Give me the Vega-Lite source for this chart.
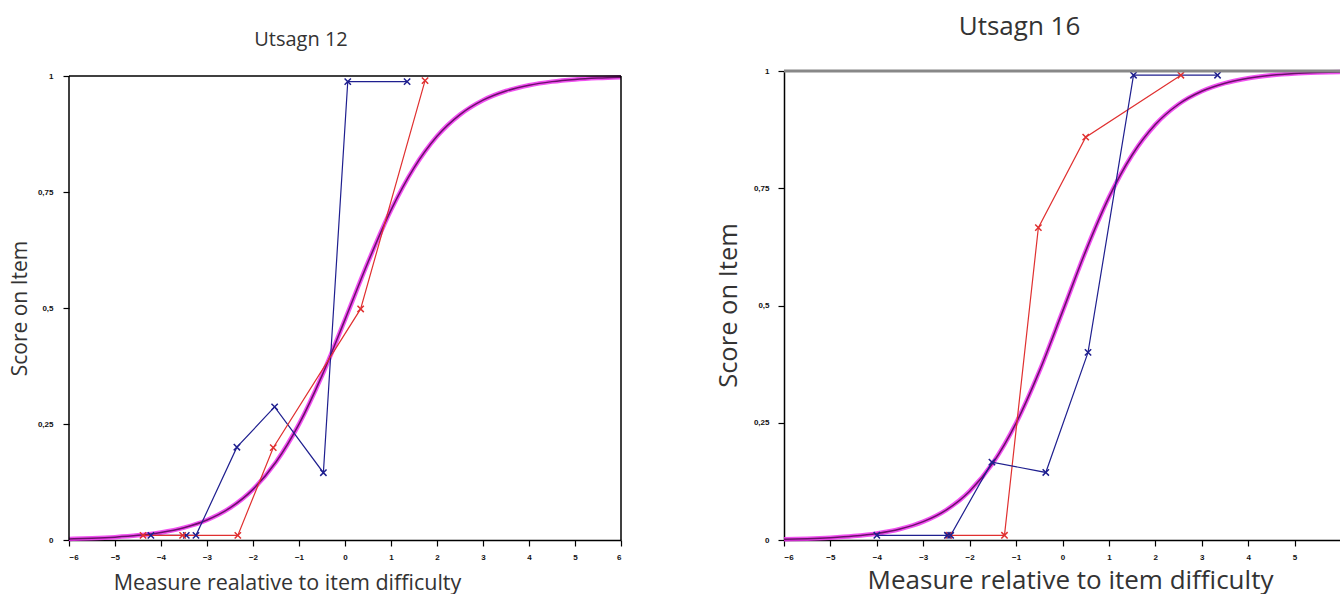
{
  "$schema": "https://vega.github.io/schema/vega-lite/v6.json",
  "padding": {"left": 9, "top": 13, "right": 0, "bottom": 0},
  "bounds": "flush",
  "spacing": 163,
  "config": {
    "view": {"stroke": null},
    "axis": {"labelFont": "Liberation Sans", "labelFontSize": 8, "labelFontWeight": "bold", "labelColor": "#111", "domain": true, "domainColor": "#000", "domainWidth": 1.5, "tickColor": "#000", "tickWidth": 1.2, "grid": false, "titleFont": "Open Sans", "titleFontWeight": "normal", "titleColor": "#333", "tickSize": 6}
  },
  "datasets": {
    "obs12": [
      {"series": "blue", "x": -4.22, "y": 0.01},
      {"series": "blue", "x": -3.45, "y": 0.01},
      {"series": "blue", "x": -3.24, "y": 0.01},
      {"series": "blue", "x": -2.35, "y": 0.2},
      {"series": "blue", "x": -1.53, "y": 0.287},
      {"series": "blue", "x": -0.47, "y": 0.145},
      {"series": "blue", "x": 0.06, "y": 0.988},
      {"series": "blue", "x": 1.35, "y": 0.988},
      {"series": "red", "x": -4.39, "y": 0.01},
      {"series": "red", "x": -3.53, "y": 0.01},
      {"series": "red", "x": -2.33, "y": 0.01},
      {"series": "red", "x": -1.56, "y": 0.199},
      {"series": "red", "x": 0.34, "y": 0.498},
      {"series": "red", "x": 1.74, "y": 0.99}
    ],
    "obs16": [
      {"series": "red", "x": -2.45, "y": 0.01},
      {"series": "red", "x": -1.25, "y": 0.01},
      {"series": "red", "x": -0.52, "y": 0.666},
      {"series": "red", "x": 0.5, "y": 0.859},
      {"series": "red", "x": 2.55, "y": 0.991},
      {"series": "blue", "x": -4.0, "y": 0.01},
      {"series": "blue", "x": -2.48, "y": 0.01},
      {"series": "blue", "x": -2.41, "y": 0.01},
      {"series": "blue", "x": -1.52, "y": 0.166},
      {"series": "blue", "x": -0.36, "y": 0.144},
      {"series": "blue", "x": 0.55, "y": 0.4},
      {"series": "blue", "x": 1.53, "y": 0.991},
      {"series": "blue", "x": 3.34, "y": 0.991}
    ],
    "curve12": [
      {"x": -6, "y": 0.0022}, {"x": -5.5, "y": 0.0037}, {"x": -5, "y": 0.0061}, {"x": -4.5, "y": 0.0100},
      {"x": -4, "y": 0.0163}, {"x": -3.5, "y": 0.0266}, {"x": -3, "y": 0.0431}, {"x": -2.5, "y": 0.0691},
      {"x": -2, "y": 0.1091}, {"x": -1.5, "y": 0.168}, {"x": -1, "y": 0.2497}, {"x": -0.5, "y": 0.3543},
      {"x": 0, "y": 0.475}, {"x": 0.5, "y": 0.5987}, {"x": 1, "y": 0.711}, {"x": 1.5, "y": 0.802},
      {"x": 2, "y": 0.870}, {"x": 2.5, "y": 0.9168}, {"x": 3, "y": 0.9479}, {"x": 3.5, "y": 0.9677},
      {"x": 4, "y": 0.9802}, {"x": 4.5, "y": 0.9879}, {"x": 5, "y": 0.9926}, {"x": 5.5, "y": 0.9955}, {"x": 6, "y": 0.9973}
    ],
    "curve16": [
      {"x": -6, "y": 0.0017}, {"x": -5.5, "y": 0.0029}, {"x": -5, "y": 0.0050}, {"x": -4.5, "y": 0.0084},
      {"x": -4, "y": 0.0140}, {"x": -3.5, "y": 0.0235}, {"x": -3, "y": 0.0391}, {"x": -2.5, "y": 0.0643},
      {"x": -2, "y": 0.1041}, {"x": -1.5, "y": 0.1642}, {"x": -1, "y": 0.2493}, {"x": -0.5, "y": 0.3595},
      {"x": 0, "y": 0.4869}, {"x": 0.5, "y": 0.6160}, {"x": 1, "y": 0.7306}, {"x": 1.5, "y": 0.8209},
      {"x": 2, "y": 0.8857}, {"x": 2.5, "y": 0.9291}, {"x": 3, "y": 0.9568}, {"x": 3.5, "y": 0.9740},
      {"x": 4, "y": 0.9844}, {"x": 4.5, "y": 0.9907}, {"x": 5, "y": 0.9945}, {"x": 5.5, "y": 0.9967}, {"x": 6, "y": 0.9981}
    ],
    "one": [{"k": 1}]
  },
  "hconcat": [
    {
      "width": 552,
      "height": 469,
      "title": {"text": "Utsagn 12", "font": "Open Sans", "fontSize": 20, "fontWeight": "normal", "color": "#333", "frame": "group", "baseline": "alphabetic", "offset": 2, "dx": -44, "anchor": "middle"},
      "layer": [
        {
          "data": {"name": "curve12"},
          "mark": {"type": "line", "color": "#ee33ee", "strokeWidth": 4.5, "interpolate": "monotone", "opacity": 0.85},
          "encoding": {
            "x": {"field": "x", "type": "quantitative", "scale": {"domain": [-6, 6], "nice": false, "zero": false},
                  "axis": {"values": [-6,-5,-4,-3,-2,-1,0,1,2,3,4,5,6], "format": "d", "labelPadding": 7, "title": "Measure realative to item difficulty", "titleFontSize": 21.5, "titleX": 218, "titleY": 49, "titleBaseline": "alphabetic", "titleAlign": "center"}},
            "y": {"field": "y", "type": "quantitative", "scale": {"domain": [0, 1.0108], "nice": false},
                  "axis": {"values": [0, 0.25, 0.5, 0.75, 1], "domain": false, "labelExpr": "replace(toString(datum.value), '.', ',')", "labelPadding": 10, "title": "Score on Item", "titleFontSize": 21, "titleX": -49, "titleY": 237, "titleAngle": -90, "titleBaseline": "middle", "titleAlign": "center"}}
          }
        },
        {
          "data": {"name": "curve12"},
          "mark": {"type": "line", "color": "#6a106a", "strokeWidth": 1.5, "interpolate": "monotone"},
          "encoding": {"x": {"field": "x", "type": "quantitative"}, "y": {"field": "y", "type": "quantitative"}}
        },
        {
          "data": {"name": "obs12"},
          "mark": {"type": "line", "strokeWidth": 1.2},
          "encoding": {
            "x": {"field": "x", "type": "quantitative"}, "y": {"field": "y", "type": "quantitative"},
            "color": {"field": "series", "type": "nominal", "scale": {"domain": ["blue", "red"], "range": ["#1f1f8f", "#e03030"]}, "legend": null}
          }
        },
        {
          "data": {"name": "obs12"},
          "mark": {"type": "point", "shape": "M-1,-1L1,1M-1,1L1,-1", "filled": false, "size": 40, "strokeWidth": 1.5, "opacity": 1},
          "encoding": {
            "x": {"field": "x", "type": "quantitative"}, "y": {"field": "y", "type": "quantitative"},
            "color": {"field": "series", "type": "nominal", "legend": null}
          }
        },
        {
          "data": {"name": "one"},
          "mark": {"type": "rule", "color": "#000", "strokeWidth": 1.5},
          "encoding": {"x": {"datum": -6, "type": "quantitative"}, "x2": {"datum": 6}, "y": {"datum": 1, "type": "quantitative"}}
        },
        {
          "data": {"name": "one"},
          "mark": {"type": "rule", "color": "#000", "strokeWidth": 1.5},
          "encoding": {"x": {"datum": 6, "type": "quantitative"}, "y": {"datum": 0, "type": "quantitative"}, "y2": {"datum": 1}}
        },
        {
          "data": {"name": "one"},
          "mark": {"type": "rule", "color": "#000", "strokeWidth": 1.5},
          "encoding": {"x": {"datum": -6, "type": "quantitative"}, "y": {"datum": 0, "type": "quantitative"}, "y2": {"datum": 1}}
        }
      ]
    },
    {
      "width": 557,
      "height": 469,
      "title": {"text": "Utsagn 16", "font": "Open Sans", "fontSize": 26, "fontWeight": "normal", "color": "#333", "frame": "group", "baseline": "alphabetic", "offset": 2, "dx": -43, "anchor": "middle"},
      "layer": [
        {
          "data": {"name": "curve16"},
          "mark": {"type": "line", "color": "#ee33ee", "strokeWidth": 4.5, "interpolate": "monotone", "opacity": 0.85},
          "encoding": {
            "x": {"field": "x", "type": "quantitative", "scale": {"domain": [-6, 6], "nice": false, "zero": false},
                  "axis": {"values": [-6,-5,-4,-3,-2,-1,0,1,2,3,4,5,6], "format": "d", "labelExpr": "datum.value == 6 ? '' : datum.label", "labelPadding": 7, "title": "Measure relative to item difficulty", "titleFontSize": 26, "titleX": 286, "titleY": 48, "titleBaseline": "alphabetic", "titleAlign": "center"}},
            "y": {"field": "y", "type": "quantitative", "scale": {"domain": [0, 1], "nice": false},
                  "axis": {"values": [0, 0.25, 0.5, 0.75, 1], "labelExpr": "replace(toString(datum.value), '.', ',')", "labelPadding": 9, "title": "Score on Item", "titleFontSize": 25.5, "titleX": -56, "titleY": 234, "titleAngle": -90, "titleBaseline": "middle", "titleAlign": "center"}}
          }
        },
        {
          "data": {"name": "curve16"},
          "mark": {"type": "line", "color": "#6a106a", "strokeWidth": 1.5, "interpolate": "monotone"},
          "encoding": {"x": {"field": "x", "type": "quantitative"}, "y": {"field": "y", "type": "quantitative"}}
        },
        {
          "data": {"name": "obs16"},
          "mark": {"type": "line", "strokeWidth": 1.2},
          "encoding": {
            "x": {"field": "x", "type": "quantitative"}, "y": {"field": "y", "type": "quantitative"},
            "color": {"field": "series", "type": "nominal", "scale": {"domain": ["blue", "red"], "range": ["#1f1f8f", "#e05050"]}, "legend": null}
          }
        },
        {
          "data": {"name": "obs16"},
          "mark": {"type": "point", "shape": "M-1,-1L1,1M-1,1L1,-1", "filled": false, "size": 40, "strokeWidth": 1.5, "opacity": 1},
          "encoding": {
            "x": {"field": "x", "type": "quantitative"}, "y": {"field": "y", "type": "quantitative"},
            "color": {"field": "series", "type": "nominal", "legend": null}
          }
        },
        {
          "data": {"name": "one"},
          "mark": {"type": "rule", "color": "#888", "strokeWidth": 3},
          "encoding": {"x": {"datum": -6, "type": "quantitative"}, "x2": {"datum": 6}, "y": {"datum": 1, "type": "quantitative"}}
        },
        {
          "data": {"name": "one"},
          "mark": {"type": "rule", "color": "#999", "strokeWidth": 1},
          "encoding": {"x": {"datum": 6, "type": "quantitative"}, "y": {"datum": 0, "type": "quantitative"}, "y2": {"datum": 1}}
        }
      ]
    }
  ]
}
